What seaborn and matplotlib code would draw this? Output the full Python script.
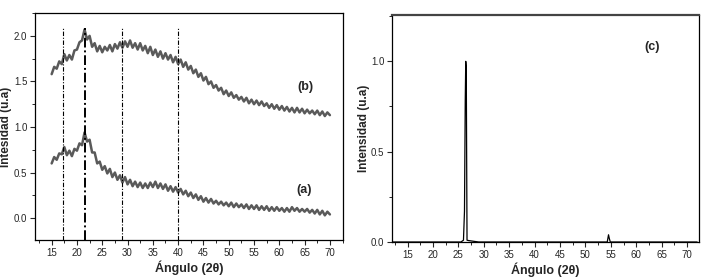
import numpy as np
import pandas as pd
import matplotlib
matplotlib.use('Agg')
import matplotlib.pyplot as plt
from matplotlib.ticker import MultipleLocator
import seaborn as sns

# Muestras (a) y (b): 2theta de 15 a 70 cada 0.5 grados
angle_ab = np.arange(15.0, 70.01, 0.5)

intensity_b = [
    1.58, 1.66, 1.64, 1.72, 1.69, 1.80, 1.73, 1.79, 1.74, 1.84,
    1.85, 1.93, 1.95, 2.07, 1.96, 2.00, 1.88, 1.92, 1.83, 1.89,
    1.82, 1.88, 1.84, 1.90, 1.83, 1.91, 1.86, 1.93, 1.87, 1.94,
    1.88, 1.95, 1.87, 1.92, 1.85, 1.92, 1.84, 1.89, 1.81, 1.88,
    1.79, 1.85, 1.77, 1.83, 1.75, 1.81, 1.74, 1.79, 1.71, 1.77,
    1.69, 1.74, 1.66, 1.71, 1.63, 1.67, 1.59, 1.63, 1.55, 1.59,
    1.51, 1.55, 1.47, 1.50, 1.43, 1.46, 1.40, 1.43, 1.36, 1.40,
    1.34, 1.38, 1.32, 1.35, 1.30, 1.33, 1.28, 1.32, 1.26, 1.30,
    1.25, 1.29, 1.24, 1.28, 1.23, 1.26, 1.21, 1.25, 1.20, 1.24,
    1.19, 1.23, 1.18, 1.22, 1.17, 1.21, 1.16, 1.21, 1.16, 1.20,
    1.15, 1.19, 1.15, 1.18, 1.14, 1.18, 1.13, 1.17, 1.12, 1.16,
    1.13,
]

intensity_a = [
    0.60, 0.67, 0.64, 0.71, 0.70, 0.78, 0.69, 0.74, 0.68, 0.76,
    0.74, 0.82, 0.80, 0.94, 0.84, 0.86, 0.72, 0.72, 0.60, 0.62,
    0.53, 0.57, 0.49, 0.54, 0.45, 0.50, 0.42, 0.47, 0.39, 0.45,
    0.37, 0.42, 0.35, 0.40, 0.34, 0.39, 0.33, 0.38, 0.33, 0.39,
    0.34, 0.40, 0.33, 0.38, 0.32, 0.37, 0.30, 0.35, 0.29, 0.34,
    0.28, 0.32, 0.26, 0.30, 0.24, 0.28, 0.22, 0.26, 0.20, 0.24,
    0.18, 0.22, 0.17, 0.21, 0.16, 0.19, 0.15, 0.18, 0.14, 0.17,
    0.13, 0.17, 0.12, 0.16, 0.12, 0.15, 0.11, 0.15, 0.10, 0.14,
    0.10, 0.14, 0.09, 0.13, 0.09, 0.13, 0.08, 0.12, 0.08, 0.12,
    0.08, 0.11, 0.07, 0.11, 0.07, 0.12, 0.08, 0.11, 0.07, 0.10,
    0.07, 0.10, 0.06, 0.09, 0.05, 0.09, 0.04, 0.08, 0.03, 0.07,
    0.04,
]

# Lineas de referencia (picos)
ref_lines = [17.2, 29.0, 40.0]
ref_main = 21.6

# Muestra (c): grafito, picos estrechos
angle_c = [12.0, 25.5, 26.0, 26.2, 26.35, 26.45, 26.55, 26.7, 27.0, 28.0, 29.0,
           54.3, 54.55, 54.7, 54.9, 72.0]
intensity_c = [0.0, 0.0, 0.01, 0.17, 0.78, 1.0, 0.96, 0.01, 0.008, 0.004, 0.0,
               0.0, 0.04, 0.02, 0.0, 0.0]

xticks = [15, 20, 25, 30, 35, 40, 45, 50, 55, 60, 65, 70]

sns.set_style("ticks")
plt.rcParams['font.family'] = ['Liberation Sans', 'DejaVu Sans']

fig = plt.figure(figsize=(7.05, 2.79), dpi=100)
ax1 = fig.add_axes([0.0496, 0.140, 0.437, 0.813])
ax2 = fig.add_axes([0.556, 0.1326, 0.4355, 0.8134])

line_color = '#5a5a5a'

df_ab = pd.DataFrame({'angle': angle_ab, 'a': intensity_a, 'b': intensity_b})
sns.lineplot(data=df_ab, x='angle', y='b', ax=ax1, color=line_color, lw=1.8)
sns.lineplot(data=df_ab, x='angle', y='a', ax=ax1, color=line_color, lw=1.8)

ax1.vlines(ref_lines, -0.24, 2.09, colors='black', linestyles=(0, (4, 1.5, 1, 1.5)), lw=0.8)
ax1.vlines([ref_main], -0.24, 2.09, colors='black', linestyles=(0, (5, 1.5, 1, 1.5)), lw=1.4)

ax1.text(65.1, 1.44, '(b)', fontsize=9, fontweight='bold', ha='center', va='center')
ax1.text(65.0, 0.31, '(a)', fontsize=9, fontweight='bold', ha='center', va='center')

ax1.set_xlim(11.7, 72.6)
ax1.set_ylim(-0.24, 2.25)
ax1.set_yticks([0.0, 0.5, 1.0, 1.5, 2.0])
ax1.set_ylabel('Intesidad (u.a)', fontsize=8.5, fontweight='bold')
ax1.yaxis.set_label_coords(-0.073, 0.5)

df_c = pd.DataFrame({'angle': angle_c, 'c': intensity_c})
sns.lineplot(data=df_c, x='angle', y='c', ax=ax2, color='black', lw=0.9)
ax2.text(63.1, 1.08, '(c)', fontsize=9, fontweight='bold', ha='center', va='center')
ax2.set_xlim(11.93, 72.36)
ax2.set_ylim(0, 1.256)
ax2.set_yticks([0.0, 0.5, 1.0])
ax2.set_ylabel('Intensidad (u.a)', fontsize=8.5, fontweight='bold')
ax2.yaxis.set_label_coords(-0.073, 0.5)

for ax in (ax1, ax2):
    ax.set_xticks(xticks)
    ax.xaxis.set_minor_locator(MultipleLocator(2.5))
    ax.yaxis.set_minor_locator(MultipleLocator(0.25))
    ax.set_yticklabels([f'{v:.1f}' for v in ax.get_yticks()])
    ax.set_xlabel('Ángulo (2θ)', fontsize=9, fontweight='bold', labelpad=2)
    ax.tick_params(which='major', direction='out', length=3.5, width=0.8, labelsize=7, pad=2)
    ax.tick_params(which='minor', direction='out', length=2, width=0.7)
    for s in ax.spines.values():
        s.set_visible(True)
        s.set_linewidth(0.9)
        s.set_color('black')

ax2.spines['top'].set_linewidth(1.6)
ax2.spines['top'].set_color('#444444')

fig.savefig('out.png', dpi=100)
